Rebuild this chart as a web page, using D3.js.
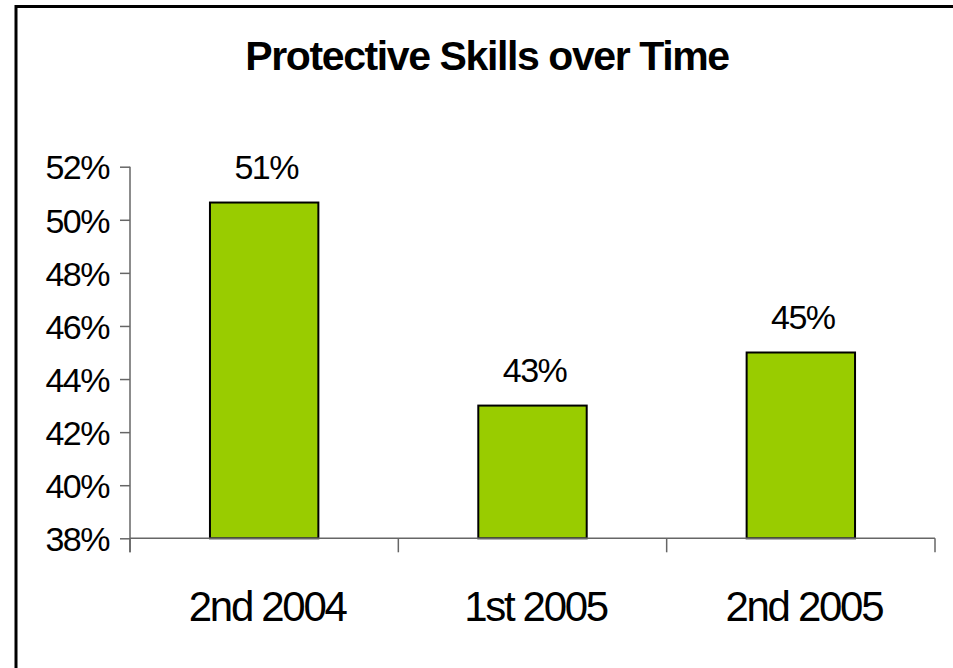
<!DOCTYPE html>
<html>
<head>
<meta charset="utf-8">
<script src="https://cdn.jsdelivr.net/npm/d3@7"></script>
<style>
  body { margin: 0; background: #fff; }
  text { font-family: "Liberation Sans", Arial, sans-serif; fill: #000; }
</style>
</head>
<body>
<div id="chart"></div>
<script>
// data
const categories = ["2nd 2004", "1st 2005", "2nd 2005"];
const values = [50.65, 43.0, 45.0];
const valueLabels = ["51%", "43%", "45%"];
const yTicks = [38, 40, 42, 44, 46, 48, 50, 52];
const title = "Protective Skills over Time";

var width = 953, height = 668;
var margin = { top: 166.7, right: 18, bottom: 129.7, left: 130 };
var innerW = width - margin.left - margin.right,
  innerH = height - margin.top - margin.bottom;

var svg = d3
  .select("#chart")
  .append("svg")
  .attr("width", width)
  .attr("height", height);

// outer frame (only top and left edges are visible in the window)
svg
  .append("rect")
  .attr("x", 16)
  .attr("y", 6.5)
  .attr("width", 1000)
  .attr("height", 1000)
  .attr("fill", "none")
  .attr("stroke", "#000")
  .attr("stroke-width", 3);

svg
  .append("text")
  .attr("x", 487)
  .attr("y", 69.5)
  .attr("text-anchor", "middle")
  .style("font-size", "41px")
  .style("font-weight", "bold")
  .style("letter-spacing", "-1.4px")
  .text(title);

var g = svg
  .append("g")
  .attr("transform", "translate(" + margin.left + "," + margin.top + ")");

var xScale = d3
  .scaleBand()
  .domain(categories)
  .range([0, innerW])
  .paddingInner(0.596)
  .paddingOuter(0.298);

var yScale = d3.scaleLinear().domain([38, 52]).range([innerH, 0]);

// y axis
var yAxis = g
  .append("g")
  .call(
    d3
      .axisLeft(yScale)
      .tickValues(yTicks)
      .tickSize(10)
      .tickSizeOuter(0)
      .tickPadding(11)
      .tickFormat((d) => d + "%")
  );
yAxis.select(".domain").attr("stroke", "#666").attr("stroke-width", 1.5)
  .attr("d", "M0,0V" + (innerH + 14));
yAxis.selectAll(".tick line").attr("stroke", "#666").attr("stroke-width", 1.5);
yAxis
  .selectAll(".tick text")
  .attr("dy", "0.36em")
  .style("font-family", "Liberation Sans, Arial, sans-serif")
  .style("font-size", "34px")
  .style("letter-spacing", "-1.5px")
  .attr("fill", "#000");

// bars
g.selectAll(".bar")
  .data(values)
  .enter()
  .append("rect")
  .attr("class", "bar")
  .attr("x", (d, i) => xScale(categories[i]))
  .attr("y", (d) => yScale(d))
  .attr("width", xScale.bandwidth())
  .attr("height", (d) => innerH - yScale(d))
  .attr("fill", "#99CC00")
  .attr("stroke", "#000")
  .attr("stroke-width", 2);

// x axis line and ticks at category boundaries
g.append("line")
  .attr("x1", 0)
  .attr("x2", innerW)
  .attr("y1", innerH)
  .attr("y2", innerH)
  .attr("stroke", "#666")
  .attr("stroke-width", 1.5);

var bounds = d3.range(categories.length + 1).map((i) => i * xScale.step());
g.selectAll(".xtick")
  .data(bounds)
  .enter()
  .append("line")
  .attr("x1", (d) => d)
  .attr("x2", (d) => d)
  .attr("y1", innerH)
  .attr("y2", innerH + 14)
  .attr("stroke", "#666")
  .attr("stroke-width", 1.5);

g.selectAll(".xlabel")
  .data(categories)
  .enter()
  .append("text")
  .attr("x", (d) => xScale(d) + xScale.bandwidth() / 2 + 3)
  .attr("y", innerH + 82.5)
  .attr("text-anchor", "middle")
  .style("font-size", "42px")
  .style("letter-spacing", "-2.3px")
  .text((d) => d);

// value labels above bars
g.selectAll(".vlabel")
  .data(values)
  .enter()
  .append("text")
  .attr("x", (d, i) => xScale(categories[i]) + xScale.bandwidth() / 2 + 2)
  .attr("y", (d) => yScale(d) - 23.5)
  .attr("text-anchor", "middle")
  .style("font-size", "34px")
  .style("letter-spacing", "-1.5px")
  .text((d, i) => valueLabels[i]);
</script>
</body>
</html>
